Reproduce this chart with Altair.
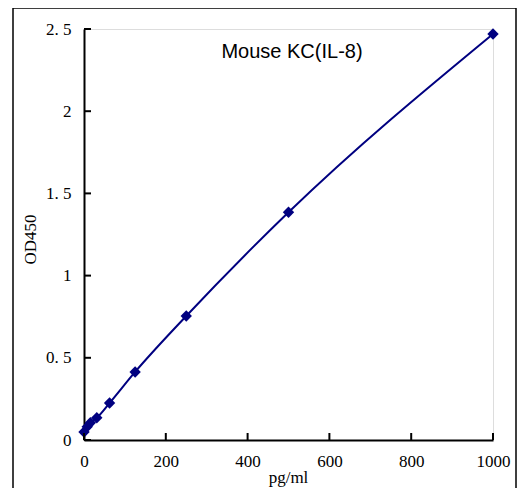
import altair as alt
import pandas as pd

conc = [0, 7.8, 15.6, 31.25, 62.5, 125, 250, 500, 1000]
od = [0.049, 0.08, 0.105, 0.135, 0.225, 0.414, 0.754, 1.385, 2.47]
x_ticks = [0, 200, 400, 600, 800, 1000]
y_ticks = [0, 0.5, 1, 1.5, 2, 2.5]
title_text = "Mouse KC(IL-8)"

df = pd.DataFrame({"conc": conc, "od": od})
NAVY = "#000080"
W, H = 409, 411

xs = alt.Scale(domain=[0, 1000], nice=False)
ys = alt.Scale(domain=[0, 2.5], nice=False)

label_font = "Liberation Serif"

base = alt.Chart(df)

line = base.mark_line(color=NAVY, strokeWidth=2, interpolate="monotone").encode(
    x=alt.X("conc:Q", scale=xs,
            axis=alt.Axis(values=x_ticks, ticks=False, grid=False, domainColor="black",
                          domainWidth=2, labelFont=label_font, labelFontSize=17,
                          labelColor="black", labelPadding=13, labelFlush=False,
                          labelExpr="toString(datum.value)",
                          title="pg/ml", titleFont=label_font, titleFontSize=17,
                          titleFontWeight="normal", titleColor="black",
                          titleX=204, titleY=37, titleBaseline="middle", titleAnchor="middle")),
    y=alt.Y("od:Q", scale=ys,
            axis=alt.Axis(values=y_ticks, ticks=False, grid=False, domainColor="black",
                          domainWidth=2, labelFont=label_font, labelFontSize=17,
                          labelColor="black", labelPadding=13, labelFlush=False,
                          labelExpr="replace(toString(datum.value), '.', '. ')",
                          title="OD450", titleFont=label_font, titleFontSize=17,
                          titleFontWeight="normal", titleColor="black",
                          titleX=-54, titleY=210, titleAngle=270,
                          titleBaseline="middle", titleAnchor="middle")),
)

pts = base.mark_point(shape="diamond", filled=True, color=NAVY, size=130, opacity=1).encode(
    x=alt.X("conc:Q", scale=xs),
    y=alt.Y("od:Q", scale=ys),
)

ytick_df = pd.DataFrame({"v": y_ticks})
ytick = alt.Chart(ytick_df).mark_rule(color="black", strokeWidth=2).encode(
    y=alt.Y("v:Q", scale=ys), x=alt.value(0), x2=alt.value(7)
)
xtick_df = pd.DataFrame({"v": x_ticks})
xtick = alt.Chart(xtick_df).mark_rule(color="black", strokeWidth=2).encode(
    x=alt.X("v:Q", scale=xs), y=alt.value(H), y2=alt.value(H - 7)
)

title = alt.Chart(pd.DataFrame({"t": [title_text]})).mark_text(
    font="Liberation Sans", fontSize=20, color="black", align="center", baseline="alphabetic"
).encode(text="t:N", x=alt.value(208), y=alt.value(29))

frame = alt.Chart(pd.DataFrame({"a": [0]})).mark_rect(
    fill=None, stroke="black", strokeWidth=1.5
).encode(x=alt.value(-71), x2=alt.value(432), y=alt.value(-21), y2=alt.value(480))

chart = alt.layer(frame, line, pts, ytick, xtick, title).properties(
    width=W, height=H,
    autosize=alt.AutoSizeParams(type="none"),
    padding={"left": 76, "top": 21, "right": 24, "bottom": 48},
).configure_view(stroke=None).configure(background="white")

chart.save("out.html", embed_options={"renderer": "svg", "actions": False})
